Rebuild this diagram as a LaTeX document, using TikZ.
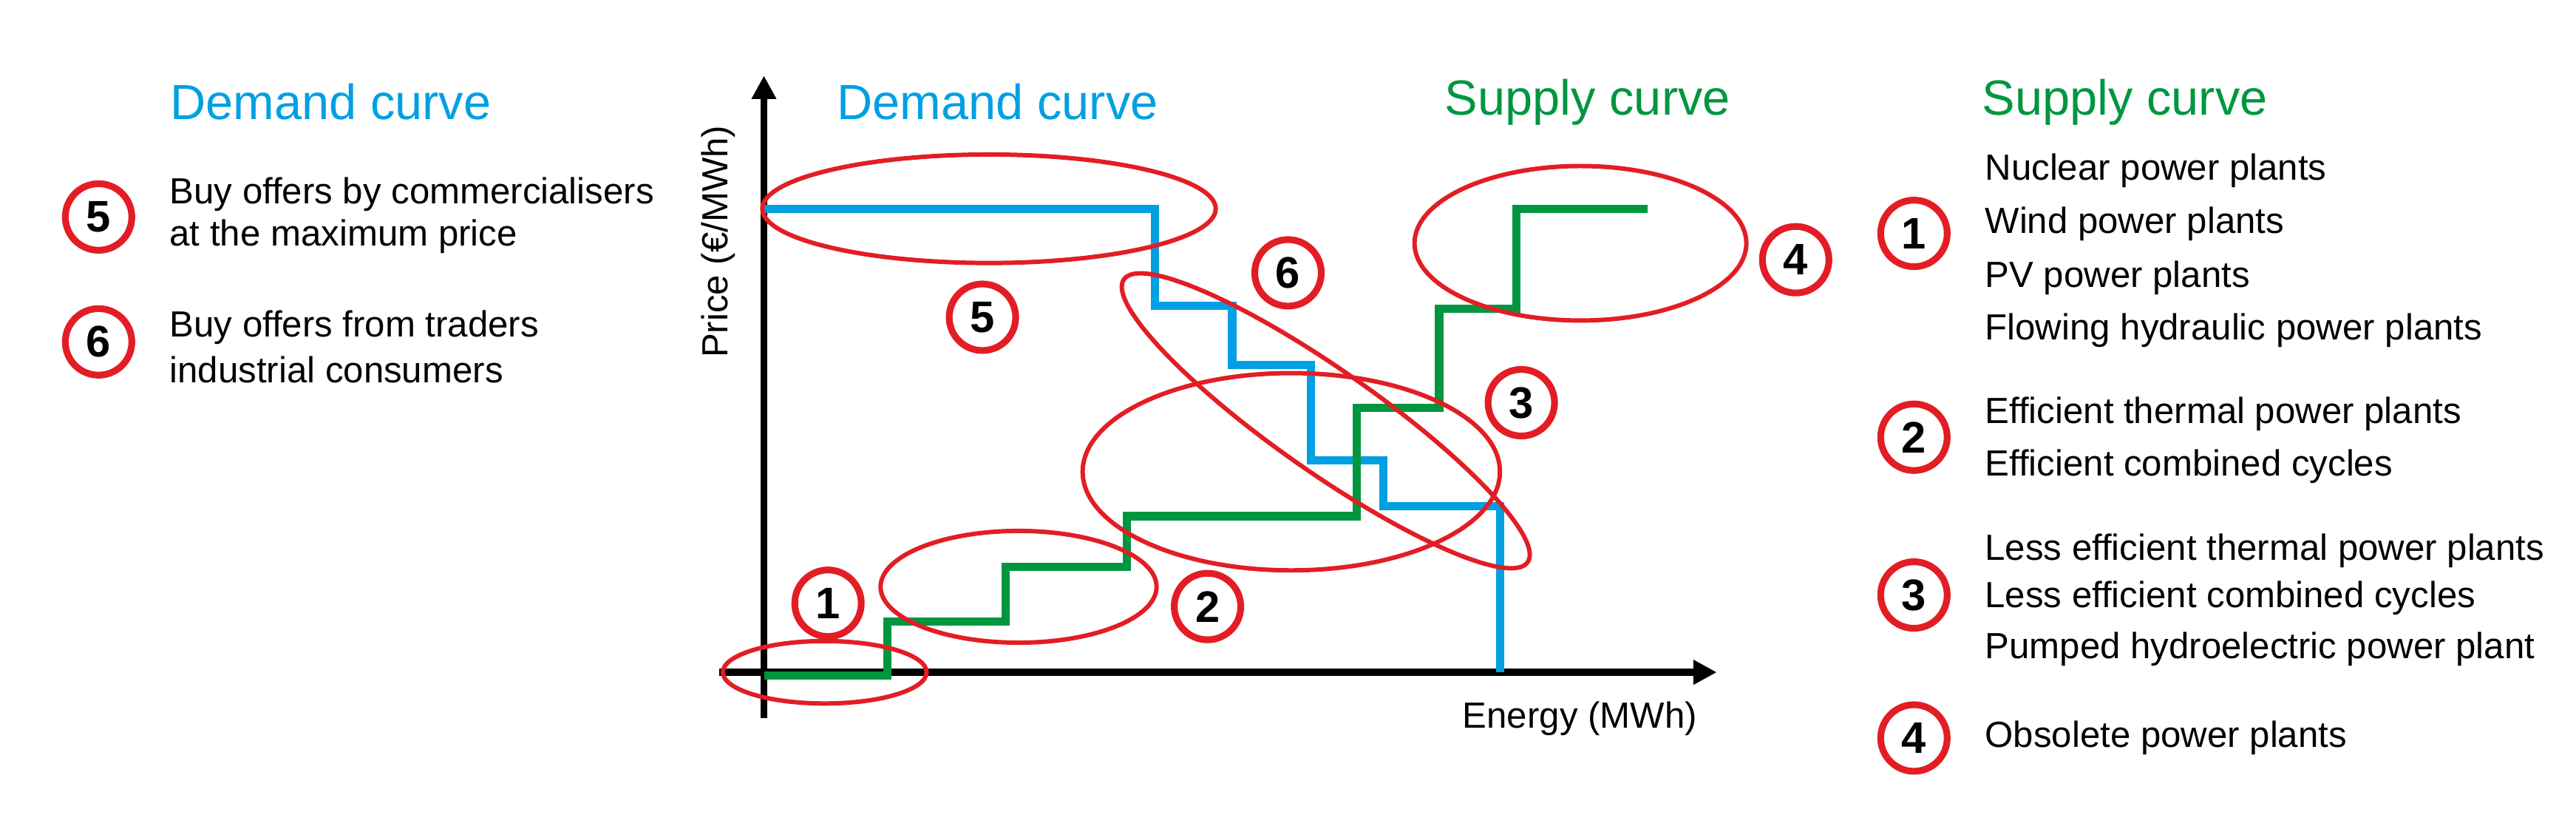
\documentclass[tikz,border=0pt]{standalone}
\usepackage{fontspec}
\setmainfont{Liberation Sans}
\usetikzlibrary{arrows.meta}
\definecolor{dblue}{RGB}{0,160,226}
\definecolor{sgreen}{RGB}{0,150,64}
\definecolor{cred}{RGB}{226,30,36}
\begin{document}
\begin{tikzpicture}[x=0.022226cm,y=-0.022226cm,
  curve/.style={line width=3.2pt},
  ax/.style={line width=2.6pt,-{Triangle[length=9pt,width=9pt]}},
  ring/.style={draw=cred,line width=1.7pt},
  num/.style={circle,draw=cred,line width=2.6pt,fill=white,inner sep=0pt,minimum width=0.8cm,minimum height=0.9cm,font=\fontsize{17}{17}\selectfont\bfseries},
  head/.style={anchor=west,font=\fontsize{19}{22}\selectfont},
  txt/.style={anchor=west,font=\fontsize{14}{16}\selectfont,inner sep=0pt}]
\useasboundingbox (0,0) rectangle (1568,504);
% axes
\coordinate (o1) at (465,437); \coordinate (yt) at (465,46);
\coordinate (x0) at (438,409); \coordinate (xt) at (1045,409);
\draw[ax] (o1) -- (yt);
\draw[ax] (x0) -- (xt);
% curves
\draw[curve,dblue] (465,127) -| (703,186) -| (750,222) -| (798,280) -| (842,308) -| (913,409);
\draw[curve,sgreen] (465,411) -| (540,378) -| (612,345) -| (686,314) -| (826,248) -| (876,188) -| (923,127) -- (1003,127);
% ellipses
\draw[ring] (502,409) ellipse [x radius=62,y radius=19];
\draw[ring] (620,357) ellipse [x radius=84,y radius=34];
\draw[ring] (602,127) ellipse [x radius=138,y radius=33];
\draw[ring] (786,287) ellipse [x radius=127,y radius=60];
\draw[ring] (807,256) [rotate around={-35:(807,256)}] ellipse [x radius=150,y radius=31];
\draw[ring] (962,148) ellipse [x radius=101,y radius=47];
% chart numbers
\node[num] (n1) at (504,367) {1};
\node[num] (n2) at (735,369) {2};
\node[num] (n5) at (598,193) {5};
\node[num] (n6) at (784,166) {6};
\node[num] (n3) at (926,245) {3};
\node[num] (n4) at (1093,158) {4};
% headings
\node[head,dblue] (h1) at (98,62) {Demand curve};
\node[head,dblue] (h2) at (504,62) {Demand curve};
\node[head,sgreen] (h3) at (874,62) {Supply curve};
\node[head,sgreen] (h4) at (1201,62) {Supply curve};
% axis labels
\node[txt,rotate=90,anchor=center] (py) at (437,147) {Price (€/MWh)};
\node[txt] (ex) at (890,437) {Energy (MWh)};
% left legend
\node[num] (l5) at (60,132) {5};
\node[txt] at (103,118) {Buy offers by commercialisers};
\node[txt] at (103,144) {at the maximum price};
\node[num] (l6) at (60,208) {6};
\node[txt] at (103,199) {Buy offers from traders};
\node[txt] at (103,225) {industrial consumers};
% right legend
\node[num] (r1) at (1165,142) {1};
\node[txt] at (1208,104) {Nuclear power plants};
\node[txt] at (1208,136) {Wind power plants};
\node[txt] at (1208,169) {PV power plants};
\node[txt] at (1208,201) {Flowing hydraulic power plants};
\node[num] (r2) at (1165,266) {2};
\node[txt] at (1208,252) {Efficient thermal power plants};
\node[txt] at (1208,284) {Efficient combined cycles};
\node[num] (r3) at (1165,362) {3};
\node[txt] at (1208,335) {Less efficient thermal power plants};
\node[txt] at (1208,364) {Less efficient combined cycles};
\node[txt] at (1208,395) {Pumped hydroelectric power plant};
\node[num] (r4) at (1165,449) {4};
\node[txt] at (1208,449) {Obsolete power plants};
\end{tikzpicture}
\end{document}
